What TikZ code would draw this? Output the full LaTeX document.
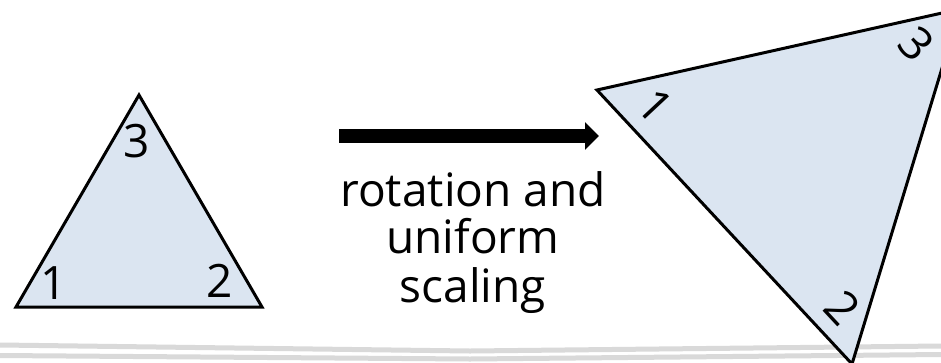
\documentclass[tikz,border=0pt]{standalone}
\usepackage{fontspec}
\setmainfont{Open Sans}
\usetikzlibrary{arrows.meta}
\definecolor{trifill}{RGB}{219,229,241}
\definecolor{bandgray}{RGB}{217,217,217}
\tikzset{
  tri/.style={draw=black, fill=trifill, line width=3pt, line join=miter},
  lbl/.style={font=\fontsize{46}{46}\selectfont, inner sep=0pt},
  captext/.style={font=\fontsize{46}{46}\selectfont, inner sep=0pt, anchor=base},
  band/.style={draw=bandgray, line width=5pt},
  bigarrow/.style={line width=14pt, -{Triangle[length=14pt,width=27pt]}}
}
\begin{document}
\begin{tikzpicture}[x=1pt,y=-1pt]
\clip (0,0) rectangle (941,362);
\fill[white] (0,0) rectangle (941,362);
% bottom bands
\draw[band] (0,345) -- (470,351) -- (941,346);
\draw[band] (0,355.5) -- (470,359) -- (941,354.5);
% left triangle
\coordinate (a1) at (16,307);
\coordinate (a2) at (262,307);
\coordinate (a3) at (139,95);
\draw[tri] (a1) -- (a2) -- (a3) -- cycle;
\node[lbl] (l1) at (54,283) {1};
\node[lbl] (l2) at (220,281) {2};
\node[lbl] (l3) at (137,141) {3};
% arrow
\coordinate (s) at (339,136);
\coordinate (e) at (599,136);
\draw[bigarrow] (s) -- (e);
% caption
\node[captext] (t1) at (473,206) {rotation and};
\node[captext] (t2) at (473,253) {uniform};
\node[captext] (t3) at (473,302) {scaling};
% right triangle
\coordinate (b1) at (597,90);
\coordinate (b2) at (852,364);
\coordinate (b3) at (960,9);
\draw[tri] (b1) -- (b2) -- (b3) -- cycle;
\node[lbl, rotate=-47] (r1) at (655,106) {1};
\node[lbl, rotate=-47] (r2) at (843,308) {2};
\node[lbl, rotate=-47] (r3) at (916,44) {3};
\end{tikzpicture}
\end{document}
